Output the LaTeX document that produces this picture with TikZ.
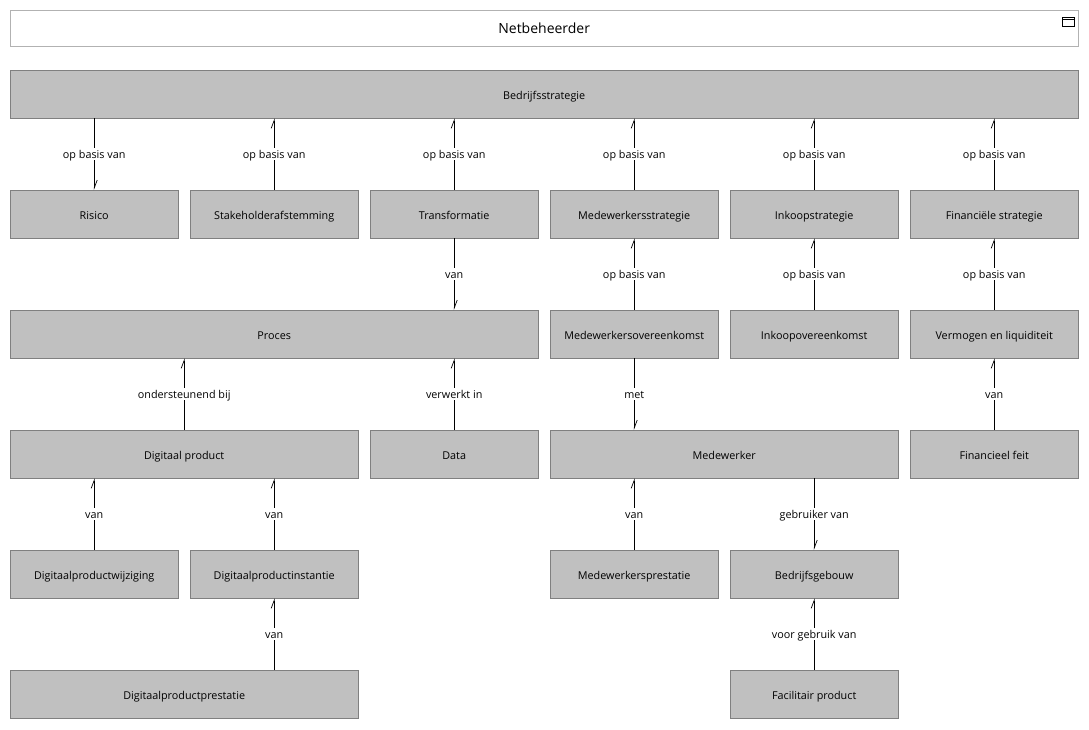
\documentclass[tikz,border=0pt]{standalone}
\usepackage{fontspec}
\setmainfont{Open Sans}
\usetikzlibrary{arrows.meta}
\definecolor{boxfill}{HTML}{C0C0C0}
\definecolor{boxline}{HTML}{808080}
\tikzset{
  ent/.style={draw=boxline,fill=boxfill,minimum height=48pt,inner sep=0pt,text height=10pt,text depth=0pt,font=\fontsize{10.8}{12}\selectfont,anchor=north west},
  rel/.style={draw=black,line width=0.7pt,-{Straight Barb[left,length=8pt,width=6pt]}},
  lab/.style={fill=white,font=\fontsize{10.8}{12}\selectfont,inner sep=1.5pt,text height=9pt,text depth=0pt}
}
\begin{document}
\begin{tikzpicture}[x=1pt,y=-1pt]
\useasboundingbox (0,0) rectangle (1089,729);
\node[draw=black!30,minimum width=1068pt,minimum height=36pt,anchor=north west,inner sep=0pt,text height=11pt,text depth=0pt,font=\fontsize{14}{16}\selectfont] (title) at (10,10) {Netbeheerder};
\draw[line width=0.8pt] (1062,17) rectangle (1074,26) (1062,19.5) -- (1074,19.5);
\newcommand{\ent}[5]{\node[ent,minimum width=#4pt] (#1) at (#2,#3) {#5};}
\ent{bs}{10}{70}{1068}{Bedrijfsstrategie}
\ent{ris}{10}{190}{168}{Risico}
\ent{sta}{190}{190}{168}{Stakeholderafstemming}
\ent{tra}{370}{190}{168}{Transformatie}
\ent{mws}{550}{190}{168}{Medewerkersstrategie}
\ent{ink}{730}{190}{168}{Inkoopstrategie}
\ent{fin}{910}{190}{168}{Financiële strategie}
\ent{pro}{10}{310}{528}{Proces}
\ent{mwo}{550}{310}{168}{Medewerkersovereenkomst}
\ent{iko}{730}{310}{168}{Inkoopovereenkomst}
\ent{ver}{910}{310}{168}{Vermogen en liquiditeit}
\ent{dp}{10}{430}{348}{Digitaal product}
\ent{dat}{370}{430}{168}{Data}
\ent{mw}{550}{430}{348}{Medewerker}
\ent{ff}{910}{430}{168}{Financieel feit}
\ent{dpw}{10}{550}{168}{Digitaalproductwijziging}
\ent{dpi}{190}{550}{168}{Digitaalproductinstantie}
\ent{mwp}{550}{550}{168}{Medewerkersprestatie}
\ent{bg}{730}{550}{168}{Bedrijfsgebouw}
\ent{dpp}{10}{670}{348}{Digitaalproductprestatie}
\ent{fp}{730}{670}{168}{Facilitair product}
% down arrows
\draw[rel] (bs.south -| ris.north) -- node[lab]{op basis van} (ris.north);
\draw[rel] (tra.south) -- node[lab]{van} (pro.north -| tra.south);
\draw[rel] (mwo.south) -- node[lab]{met} (mw.north -| mwo.south);
\draw[rel] (mw.south -| bg.north) -- node[lab]{gebruiker van} (bg.north);
% up arrows
\draw[rel] (sta.north) -- node[lab]{op basis van} (bs.south -| sta.north);
\draw[rel] (tra.north) -- node[lab]{op basis van} (bs.south -| tra.north);
\draw[rel] (mws.north) -- node[lab]{op basis van} (bs.south -| mws.north);
\draw[rel] (ink.north) -- node[lab]{op basis van} (bs.south -| ink.north);
\draw[rel] (fin.north) -- node[lab]{op basis van} (bs.south -| fin.north);
\draw[rel] (mwo.north) -- node[lab]{op basis van} (mws.south);
\draw[rel] (iko.north) -- node[lab]{op basis van} (ink.south);
\draw[rel] (ver.north) -- node[lab]{op basis van} (fin.south);
\draw[rel] (dp.north) -- node[lab]{ondersteunend bij} (pro.south -| dp.north);
\draw[rel] (dat.north) -- node[lab]{verwerkt in} (pro.south -| dat.north);
\draw[rel] (ff.north) -- node[lab]{van} (ver.south);
\draw[rel] (dpw.north) -- node[lab]{van} (dp.south -| dpw.north);
\draw[rel] (dpi.north) -- node[lab]{van} (dp.south -| dpi.north);
\draw[rel] (mwp.north) -- node[lab]{van} (mw.south -| mwp.north);
\draw[rel] (dpp.north -| dpi.south) -- node[lab]{van} (dpi.south);
\draw[rel] (fp.north) -- node[lab]{voor gebruik van} (bg.south);
\end{tikzpicture}
\end{document}
